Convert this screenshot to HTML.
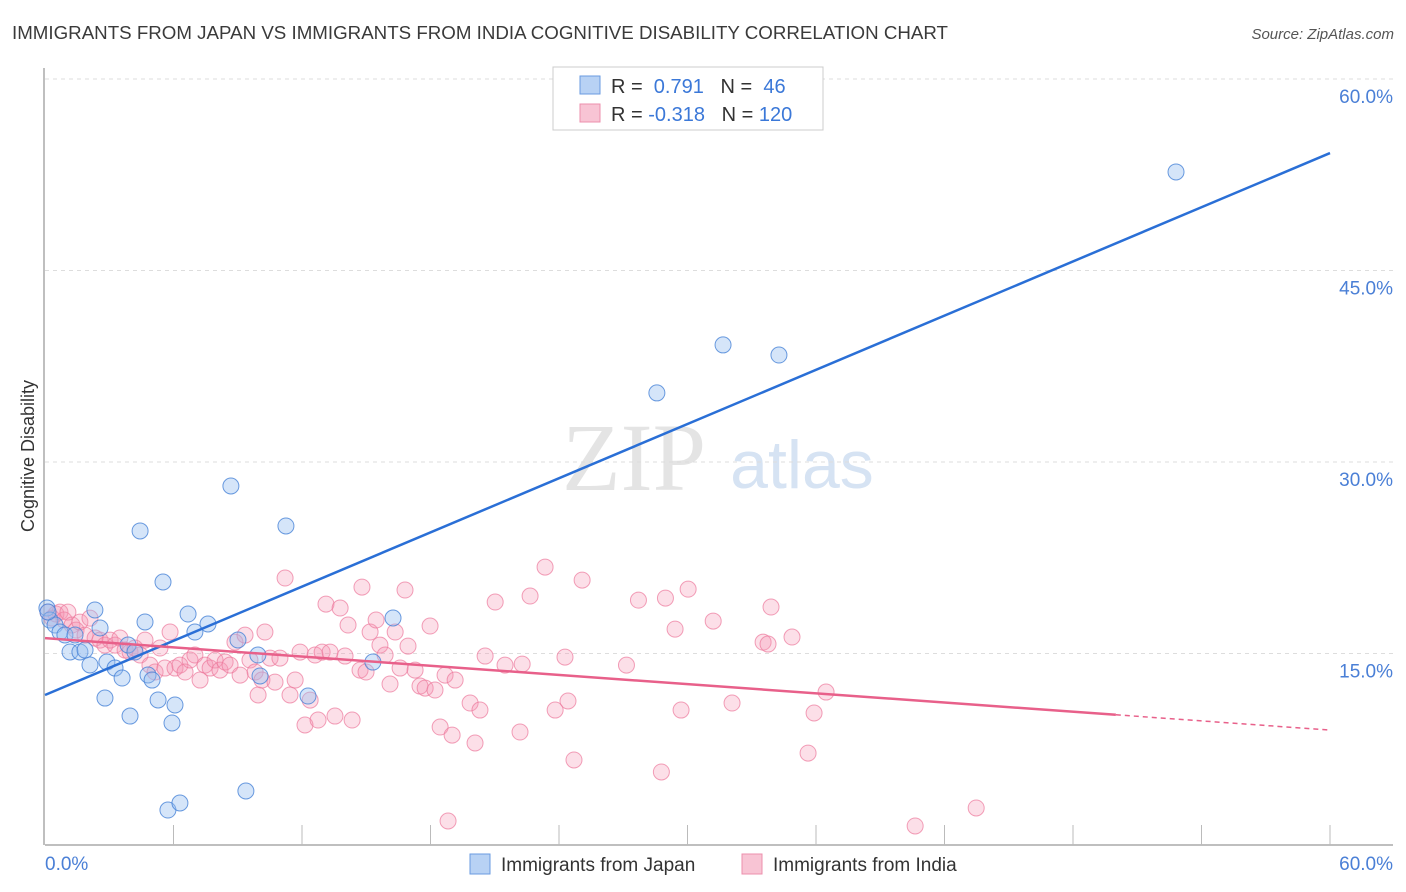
<!DOCTYPE html>
<html><head><meta charset="utf-8"><style>
body{margin:0;background:#fff;font-family:"Liberation Sans",sans-serif}
</style></head><body>
<svg id="chart" width="1406" height="892" xmlns="http://www.w3.org/2000/svg" style="display:block">
<text x="12" y="39" font-size="18" fill="#3a3a3a" textLength="936" lengthAdjust="spacingAndGlyphs">IMMIGRANTS FROM JAPAN VS IMMIGRANTS FROM INDIA COGNITIVE DISABILITY CORRELATION CHART</text>
<text x="1394" y="39" font-size="15" fill="#555" font-style="italic" text-anchor="end">Source: ZipAtlas.com</text>
<text x="634" y="490" font-size="96" fill="#e4e4e4" font-family="Liberation Serif,serif" text-anchor="middle">ZIP</text>
<text x="802" y="488" font-size="68" fill="#d6e3f3" text-anchor="middle">atlas</text>
<text transform="translate(34,456) rotate(-90)" font-size="18" fill="#333" text-anchor="middle">Cognitive Disability</text>
<g id="grid"></g><g id="marks"></g>
<g>
<rect x="553" y="67" width="270" height="63" fill="#fff" stroke="#ccc"/>
<rect x="580" y="76" width="20" height="18" fill="#b8d2f4" stroke="#6a9be0"/>
<rect x="580" y="104" width="20" height="18" fill="#f8c4d4" stroke="#ec8fac"/>
<text x="611" y="93" font-size="20" fill="#333">R = <tspan fill="#3b78d8">&#160;0.791</tspan>&#160;&#160;&#160;N = <tspan fill="#3b78d8">&#160;46</tspan></text>
<text x="611" y="121" font-size="20" fill="#333">R = <tspan fill="#3b78d8">-0.318</tspan>&#160;&#160;&#160;N = <tspan fill="#3b78d8">120</tspan></text>
</g>
<g>
<rect x="470" y="854" width="20" height="20" fill="#b8d2f4" stroke="#6a9be0"/>
<text x="501" y="871" font-size="19" fill="#333">Immigrants from Japan</text>
<rect x="742" y="854" width="20" height="20" fill="#f8c4d4" stroke="#ec8fac"/>
<text x="773" y="871" font-size="19" fill="#333">Immigrants from India</text>
</g>
</svg>
<script>
const yTicks=[15,30,45,60];
const yTickLabels=["15.0%","30.0%","45.0%","60.0%"];
const xTickLabels=["0.0%","60.0%"];
const japanX=[0.09,0.23,0.47,0.70,0.93,1.17,1.40,1.63,2.10,2.33,2.57,2.80,2.89,3.27,3.60,3.97,3.88,4.44,4.67,4.81,5.00,5.28,5.51,5.74,5.93,6.07,6.30,6.68,7.00,7.61,8.68,9.01,9.38,9.94,10.04,11.25,12.28,15.31,16.25,28.57,31.66,34.27,52.81,0.14,1.87,4.20];
const japanY=[18.56,17.62,17.23,16.68,16.45,15.12,16.45,15.12,14.10,18.41,17.00,11.51,14.33,13.86,13.08,10.10,15.67,24.60,17.47,13.32,12.92,11.36,20.60,2.74,9.56,10.97,3.29,18.09,16.68,17.31,28.12,16.06,4.23,14.88,13.24,24.99,11.67,14.33,17.78,35.41,39.17,38.38,52.72,18.25,15.27,15.12];
const indiaX=[0.14,0.33,0.51,0.70,0.89,1.07,1.26,1.45,1.63,1.87,2.10,2.34,2.57,2.80,3.04,3.27,3.50,3.74,3.97,4.20,4.44,4.67,4.90,5.14,5.37,5.60,5.84,6.07,6.30,6.54,6.77,7.00,7.24,7.47,7.71,7.94,8.17,8.41,8.64,8.87,9.11,9.34,9.57,9.81,9.95,10.13,10.27,10.51,10.74,10.97,11.21,11.44,11.68,11.91,12.14,12.38,12.61,12.75,12.94,13.12,13.31,13.54,13.78,14.01,14.15,14.34,14.71,14.80,14.99,15.18,15.46,15.64,15.88,16.11,16.35,16.58,16.81,16.95,17.28,17.51,17.75,17.98,18.21,18.45,18.68,18.82,19.01,19.15,19.85,20.08,20.31,20.55,21.02,21.48,22.18,22.28,22.65,23.35,23.82,24.28,24.42,24.70,25.08,27.15,27.71,28.78,28.97,29.42,29.70,30.03,31.20,32.08,33.53,33.76,33.90,34.88,35.63,35.91,36.47,40.63,43.48];
const indiaY=[18.24,17.77,18.09,18.24,17.62,18.24,17.23,16.83,17.46,16.44,17.77,16.21,16.05,15.66,16.05,15.66,16.21,15.27,15.11,15.43,14.88,16.05,14.09,13.55,15.43,13.86,16.68,13.86,14.09,13.55,14.49,14.88,12.92,14.09,13.86,14.49,13.70,14.33,14.09,15.89,13.31,16.44,14.49,13.55,11.75,12.92,16.68,14.64,12.76,14.64,20.91,11.75,12.92,15.11,9.40,11.35,14.88,9.79,15.11,18.87,15.11,10.10,18.56,14.80,17.23,9.79,13.70,20.20,13.55,16.68,17.62,15.66,14.88,12.61,16.68,13.86,19.97,15.58,13.70,12.45,12.29,17.15,12.14,9.24,13.31,1.88,8.61,12.92,11.12,7.99,10.57,14.80,19.03,14.09,8.85,14.17,19.50,21.77,10.57,14.72,11.28,6.66,20.75,14.09,19.18,5.72,19.34,16.91,10.57,20.04,17.54,11.12,15.89,15.74,18.64,16.29,7.20,10.34,11.98,1.49,2.90];
const japanTrend=[11.75,54.2];
const indiaTrend=[16.2,9.0];
const indiaSolidEnd=50;
const NS="http://www.w3.org/2000/svg";
const X0=45,X1=1330,Y0=845,YT=79;
const sx=v=>X0+(v/60)*(X1-X0);
const sy=v=>Y0-(v/60)*(Y0-YT);
function mk(tag,attrs,parent){const e=document.createElementNS(NS,tag);for(const k in attrs)e.setAttribute(k,attrs[k]);parent.appendChild(e);return e;}
const grid=document.getElementById('grid'),marks=document.getElementById('marks');
yTicks.forEach((t,i)=>{
  const l=mk('line',{x1:X0,x2:1393,y1:sy(t),y2:sy(t),stroke:'#ddd','stroke-dasharray':'4,4'},grid);
  
  
  const tx=mk('text',{x:1393,y:sy(t)+24,'font-size':19,fill:'#4a7fd6','text-anchor':'end'},grid);
  tx.textContent=yTickLabels[i];
  
  
});
const ax=mk('line',{x1:X0,x2:1393,y1:Y0,y2:Y0,stroke:'#aaa','stroke-width':1.5},grid);


const ay=mk('line',{x1:X0-1,x2:X0-1,y1:68,y2:Y0,stroke:'#aaa','stroke-width':1.5},grid);


for(let i=1;i<=10;i++){const tk=mk('line',{x1:sx(i*6),x2:sx(i*6),y1:Y0,y2:Y0-20,stroke:'#bbb'},grid);

}
[[X0,'start',xTickLabels[0]],[1393,'end',xTickLabels[1]]].forEach(a=>{
  const t=mk('text',{x:a[0],y:870,'font-size':19,fill:'#4a7fd6','text-anchor':a[1]},grid);t.textContent=a[2];
  
  
});
indiaX.forEach((x,i)=>{const c=mk('circle',{cx:sx(x),cy:sy(indiaY[i]),r:8,fill:'rgba(244,150,180,0.3)',stroke:'rgba(236,120,155,0.7)','stroke-width':1},marks);

});
japanX.forEach((x,i)=>{const c=mk('circle',{cx:sx(x),cy:sy(japanY[i]),r:8,fill:'rgba(150,190,240,0.4)',stroke:'rgba(70,130,215,0.8)','stroke-width':1},marks);

});
const jl=mk('line',{x1:sx(0),y1:sy(japanTrend[0]),x2:sx(60),y2:sy(japanTrend[1]),stroke:'#2a6fd6','stroke-width':2.5},marks);


const iy=x=>indiaTrend[0]+(indiaTrend[1]-indiaTrend[0])*x/60;
const il=mk('line',{x1:sx(0),y1:sy(iy(0)),x2:sx(indiaSolidEnd),y2:sy(iy(indiaSolidEnd)),stroke:'#e8608a','stroke-width':2.5},marks);


const id=mk('line',{x1:sx(indiaSolidEnd),y1:sy(iy(indiaSolidEnd)),x2:sx(60),y2:sy(iy(60)),stroke:'#e8608a','stroke-width':1.5,'stroke-dasharray':'5,4'},marks);


</script>
</body></html>
